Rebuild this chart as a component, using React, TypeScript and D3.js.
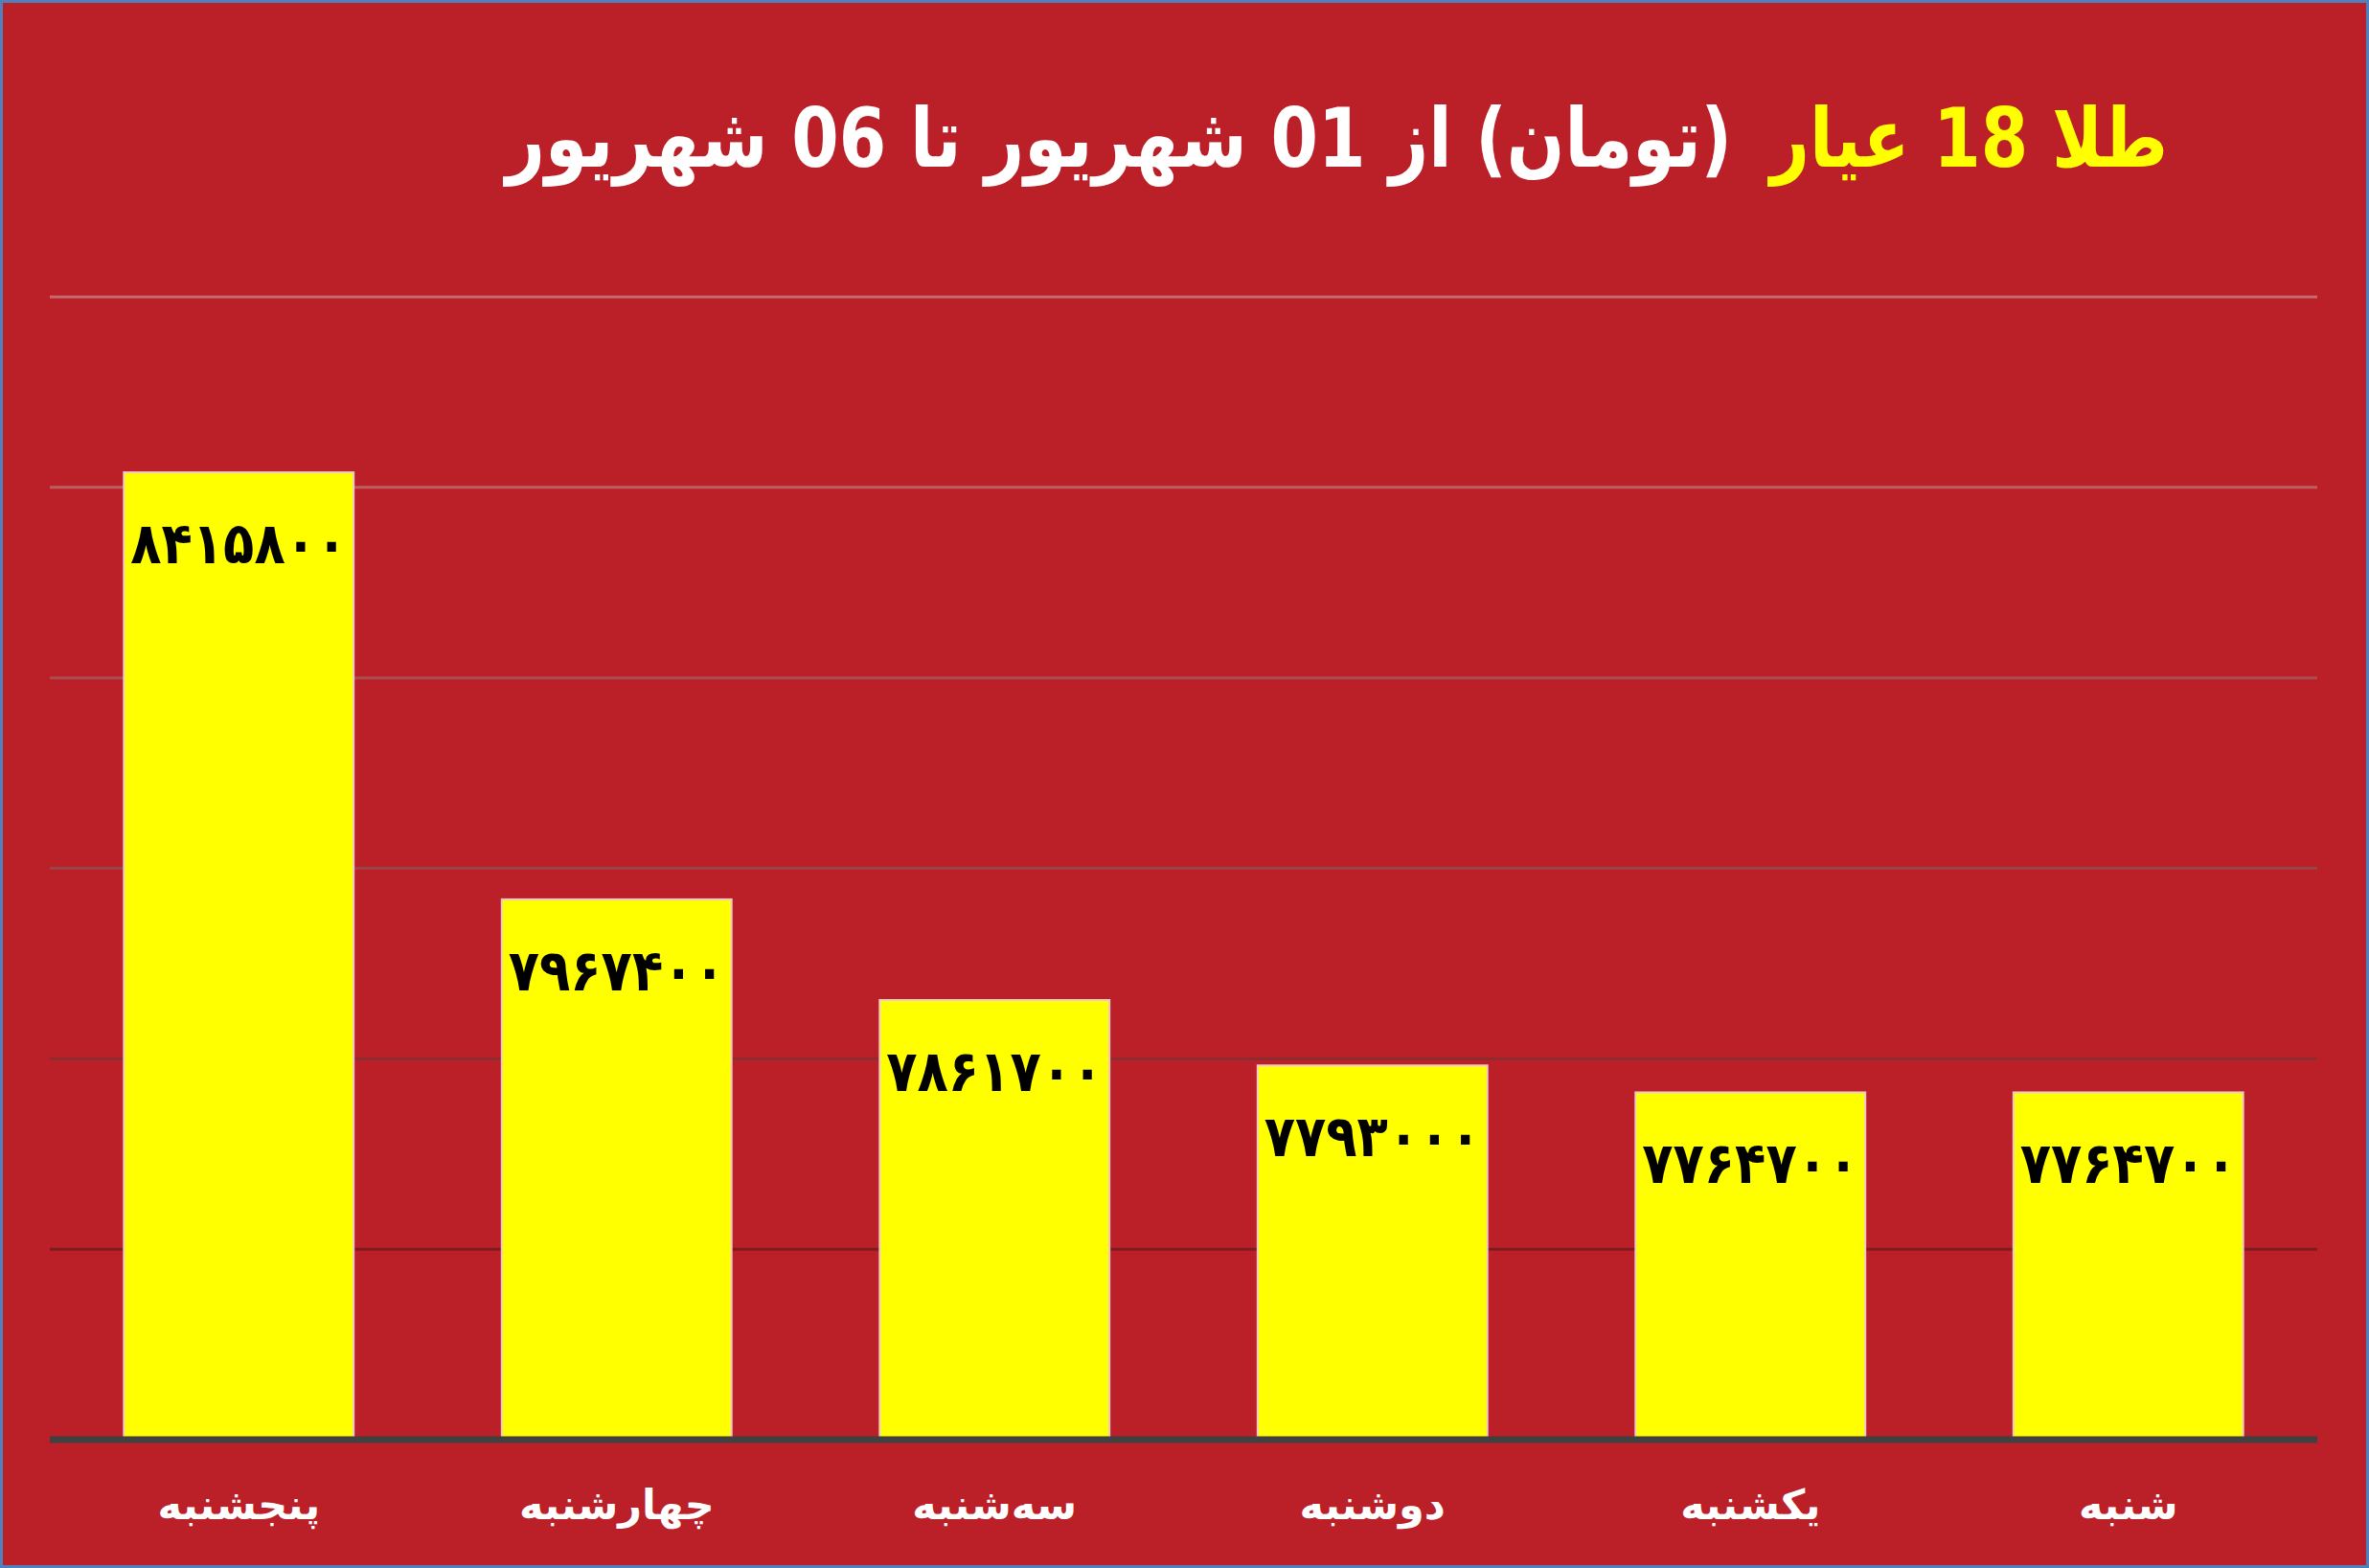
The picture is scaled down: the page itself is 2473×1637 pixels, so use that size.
import React, { useEffect, useRef } from 'react';
import * as d3 from 'd3';

// days, right-to-left in the picture (Thursday on the left)
const days = ['پنجشنبه', 'چهارشنبه', 'سه‌شنبه', 'دوشنبه', 'یکشنبه', 'شنبه'];
const prices = [8415800, 7967400, 7861700, 7793000, 7764700, 7764700];
const yTicks = [7600000, 7800000, 8000000, 8200000, 8400000, 8600000];
const gridColors = ['#c46a6e', '#bb5f62', '#a94d52', '#9c4348', '#8a2c30', '#7c1b20'];

const titleYellow = 'طلا 18 عیار';
const titleWhite = '(تومان) از 01 شهریور تا 06 شهریور';

const toPersian = (s: string) => s.replace(/[0-9]/g, d => '۰۱۲۳۴۵۶۷۸۹'[+d]);

const App: React.FC = () => {
  const svgRef = useRef<SVGSVGElement | null>(null);

  useEffect(() => {
    document.body.style.margin = '0';
    if (!svgRef.current) return;

    const svg = d3.select(svgRef.current);
    svg.selectAll('*').remove();

    const width = 2473;
    const height = 1637;
    const margin = { top: 310, right: 54, bottom: 134, left: 52 };

    svg.attr('width', width).attr('height', height);

    // background + blue frame
    svg.append('rect')
      .attr('x', 1.5).attr('y', 1.5)
      .attr('width', width - 3).attr('height', height - 3)
      .attr('fill', '#bb2029')
      .attr('stroke', '#4f81bd')
      .attr('stroke-width', 3);

    const x = d3.scaleBand<string>()
      .domain(days)
      .range([margin.left, width - margin.right])
      .paddingInner(0.392)
      .paddingOuter(0.196);

    const y = d3.scaleLinear()
      .domain([7400000, 8600000])
      .range([height - margin.bottom, margin.top]);

    // gridlines
    svg.append('g')
      .selectAll('line')
      .data(yTicks)
      .enter().append('line')
      .attr('x1', margin.left)
      .attr('x2', width - margin.right)
      .attr('y1', d => y(d))
      .attr('y2', d => y(d))
      .attr('stroke', (d, i) => gridColors[gridColors.length - 1 - i])
      .attr('stroke-width', 3);

    // bars
    svg.append('g')
      .selectAll('rect')
      .data(prices)
      .enter().append('rect')
      .attr('x', (d, i) => x(days[i]) as number)
      .attr('y', d => y(d))
      .attr('width', x.bandwidth())
      .attr('height', d => y(7400000) - y(d))
      .attr('fill', '#ffff00')
      .attr('stroke', '#f2c9c9')
      .attr('stroke-width', 2);

    // axis line
    svg.append('line')
      .attr('x1', margin.left)
      .attr('x2', width - margin.right)
      .attr('y1', y(7400000))
      .attr('y2', y(7400000))
      .attr('stroke', '#404040')
      .attr('stroke-width', 7);

    // value labels
    svg.append('g')
      .selectAll('text')
      .data(prices)
      .enter().append('text')
      .attr('x', (d, i) => (x(days[i]) as number) + x.bandwidth() / 2)
      .attr('y', d => y(d) + 95)
      .attr('text-anchor', 'middle')
      .attr('font-family', 'DejaVu Sans')
      .attr('font-weight', 'bold')
      .attr('font-size', 60)
      .attr('textLength', 226)
      .attr('lengthAdjust', 'spacingAndGlyphs')
      .attr('fill', '#000')
      .text(d => toPersian(String(d)));

    // category labels
    svg.append('g')
      .selectAll('text')
      .data(days)
      .enter().append('text')
      .attr('x', d => (x(d) as number) + x.bandwidth() / 2)
      .attr('y', 1586)
      .attr('text-anchor', 'middle')
      .attr('direction', 'rtl')
      .attr('font-family', 'DejaVu Sans')
      .attr('font-weight', 'bold')
      .attr('font-size', 43)
      .attr('fill', '#fff')
      .text(d => d);

    // title: two pieces, yellow on the right, white to its left
    const titleRight = 2263;
    const titleWidth = 1735;
    const gap = 40;
    const titleFont = (sel: any) => sel
      .attr('y', 174)
      .attr('text-anchor', 'middle')
      .attr('direction', 'rtl')
      .attr('font-family', 'DejaVu Sans')
      .attr('font-weight', 'bold')
      .attr('font-size', 86);

    const tYellow = svg.append('text').call(titleFont).attr('fill', '#ffff00').text(titleYellow);
    const tWhite = svg.append('text').call(titleFont).attr('fill', '#ffffff').text(titleWhite);
    const w1 = (tYellow.node() as SVGTextElement).getComputedTextLength();
    const w2 = (tWhite.node() as SVGTextElement).getComputedTextLength();
    const s = (titleWidth - gap) / (w1 + w2);
    tYellow
      .attr('x', titleRight - (w1 * s) / 2)
      .attr('textLength', w1 * s)
      .attr('lengthAdjust', 'spacingAndGlyphs');
    tWhite
      .attr('x', titleRight - w1 * s - gap - (w2 * s) / 2)
      .attr('textLength', w2 * s)
      .attr('lengthAdjust', 'spacingAndGlyphs');
  }, []);

  return <svg ref={svgRef}></svg>;
};

export default App;
